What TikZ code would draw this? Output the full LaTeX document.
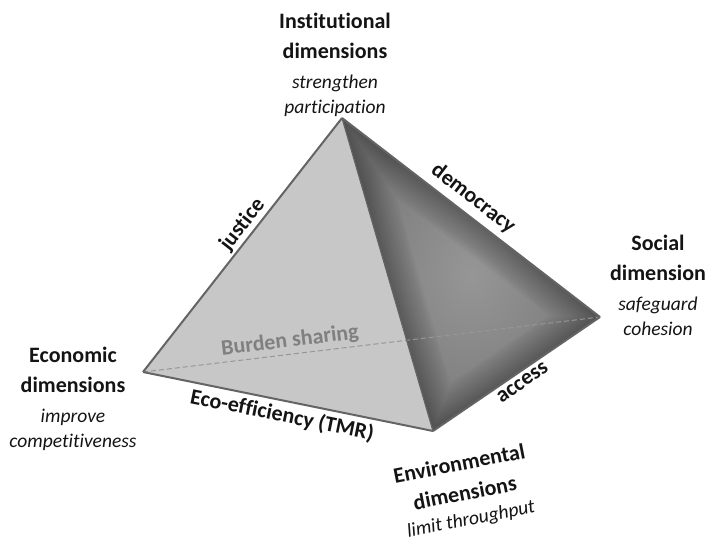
\documentclass[tikz,border=0pt]{standalone}
\usepackage{fontspec}
\setmainfont{Carlito}[Ligatures=NoCommon]
\usetikzlibrary{positioning}
\definecolor{tet_front}{RGB}{199,199,199}
\definecolor{tet_edge}{RGB}{100,100,100}
\definecolor{tet_dash}{RGB}{150,150,150}
\definecolor{tet_inner}{RGB}{150,150,150}
\definecolor{tet_outer}{RGB}{122,122,122}
\definecolor{tet_text}{RGB}{20,20,20}

\begin{document}
\begin{tikzpicture}[x=1pt, y=-1pt,
        head/.style={font=\fontsize{22}{30}\selectfont\bfseries, align=center,
                     inner sep=0pt, text=tet_text},
        sub/.style={font=\fontsize{19.5}{25}\selectfont\itshape, align=center,
                    inner sep=0pt, text=tet_text},
        edgelbl/.style={font=\fontsize{22}{26}\selectfont\bfseries, sloped,
                        inner sep=2pt, text=tet_text},
        glow/.style={black, opacity=0.017, line join=round}]
        \useasboundingbox (0,0) rectangle (711,543);
        % Corners
        \coordinate (top) at (342,118);
        \coordinate (eco) at (143,372);
        \coordinate (soc) at (600,317);
        \coordinate (env) at (433,431);
        % Faces
        \fill[tet_front] (eco) -- (top) -- (env) -- cycle;
        \begin{scope}
          \clip (top) -- (soc) -- (env) -- cycle;
          \shade[inner color=tet_inner, outer color=tet_outer]
            (top) -- (soc) -- (env) -- cycle;
          \foreach \w in {3,6,...,60}
            \draw[glow, line width=\w pt] (top) -- (soc) -- (env) -- cycle;
        \end{scope}
        % Hidden edge
        \draw[tet_dash, line width=1pt, dash pattern=on 5pt off 3pt] (eco) -- (soc)
          node[edgelbl, pos=0.325, above=1pt, text=gray] {Burden sharing};
        % Visible edges
        \draw[tet_edge, line width=2pt, line join=round] (eco) -- (top)
          node[edgelbl, pos=0.55, above] {justice};
        \draw[tet_edge, line width=2pt, line join=round] (top) -- (soc)
          node[edgelbl, pos=0.47, above=4pt] {democracy};
        \draw[tet_edge, line width=2pt, line join=round] (env) -- (soc)
          node[edgelbl, pos=0.5, below=2pt] {access};
        \draw[tet_edge, line width=2pt, line join=round] (eco) -- (env)
          node[edgelbl, pos=0.49, below=2pt] {Eco-efficiency (TMR)};
        \draw[tet_edge, line width=1.2pt] (top) -- (env);
        % Corner labels
        \node[head, anchor=north] (insthead) at (335,13) {Institutional\\dimensions};
        \node[sub, below=16pt of insthead] (instsub) {strengthen\\participation};
        \node[head, anchor=north] (sochead) at (658,235) {Social\\dimension};
        \node[sub, below=16pt of sochead] (socsub) {safeguard\\cohesion};
        \node[head, anchor=north] (ecohead) at (73,347) {Economic\\dimensions};
        \node[sub, below=16pt of ecohead] (ecosub) {improve\\competitiveness};
        \node[head, rotate=11] (envhead) at (462,478) {Environmental\\dimensions};
        \node[sub, rotate=11] (envsub) at (471,520) {limit throughput};
      \end{tikzpicture}
\end{document}
